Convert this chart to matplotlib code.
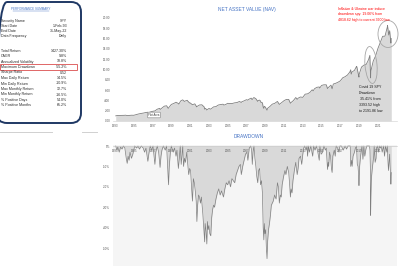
import matplotlib.pyplot as plt
from matplotlib.patches import FancyBboxPatch, Ellipse, Rectangle

plt.rcParams['font.family'] = ['Liberation Sans', 'DejaVu Sans']

# performance summary
info_labels = ['Security Name', 'Start Date', 'End Date', 'Data Frequency']
info_values = ['SPY', '1-Feb-93', '31-May-22', 'Daily']
stat_labels = ['Total Return', 'CAGR', 'Annualized Volatility', 'Maximum Drawdown',
               'Sharpe Ratio', 'Max Daily Return', 'Min Daily Return',
               'Max Monthly Return', 'Min Monthly Return', '% Positive Days',
               '% Positive Months']
stat_values = ['1427.30%', '9.8%', '18.8%', '-55.2%', '0.52', '14.5%', '-10.9%',
               '12.7%', '-16.5%', '54.0%', '65.2%']

# NAV
nav_years = [1993.08, 1993.25, 1993.5, 1993.75, 1994.0, 1994.1, 1994.25, 1994.5, 1994.75,
             1995.0, 1995.25, 1995.5, 1995.75, 1996.0, 1996.25, 1996.5, 1996.55, 1996.75,
             1997.0, 1997.25, 1997.5, 1997.75, 1997.82, 1998.0, 1998.25, 1998.5, 1998.67,
             1998.75, 1999.0, 1999.25, 1999.5, 1999.75, 1999.8, 2000.0, 2000.2, 2000.25,
             2000.4, 2000.5, 2000.7, 2000.75, 2000.95, 2001.0, 2001.25, 2001.5, 2001.7,
             2001.75, 2002.0, 2002.25, 2002.5, 2002.55, 2002.65, 2002.78, 2003.0, 2003.2,
             2003.25, 2003.5, 2003.75, 2004.0, 2004.25, 2004.5, 2004.6, 2004.75, 2005.0,
             2005.25, 2005.5, 2005.75, 2006.0, 2006.25, 2006.45, 2006.5, 2006.75, 2007.0,
             2007.15, 2007.25, 2007.5, 2007.6, 2007.75, 2007.8, 2008.0, 2008.2, 2008.25,
             2008.4, 2008.5, 2008.55, 2008.7, 2008.78, 2008.85, 2008.9, 2009.0, 2009.19,
             2009.25, 2009.5, 2009.75, 2010.0, 2010.3, 2010.5, 2010.75, 2011.0, 2011.25,
             2011.5, 2011.68, 2011.75, 2012.0, 2012.25, 2012.4, 2012.5, 2012.75, 2013.0,
             2013.25, 2013.5, 2013.75, 2014.0, 2014.1, 2014.25, 2014.5, 2014.75, 2014.8,
             2015.0, 2015.25, 2015.5, 2015.63, 2015.75, 2016.0, 2016.12, 2016.25, 2016.5,
             2016.75, 2017.0, 2017.25, 2017.5, 2017.75, 2018.0, 2018.1, 2018.15, 2018.25,
             2018.5, 2018.72, 2018.75, 2018.98, 2019.0, 2019.25, 2019.5, 2019.75, 2020.0,
             2020.14, 2020.22, 2020.25, 2020.5, 2020.75, 2021.0, 2021.25, 2021.5, 2021.75,
             2022.0, 2022.02, 2022.15, 2022.25, 2022.38, 2022.42]
nav_values = [1.00, 1.07, 1.07, 1.09, 1.10, 1.13, 1.08, 1.08, 1.12,
              1.11, 1.24, 1.36, 1.46, 1.53, 1.64, 1.70, 1.60, 1.75,
              1.88, 1.96, 2.29, 2.45, 2.25, 2.51, 2.88, 2.96, 2.45,
              2.65, 3.22, 3.40, 3.64, 3.40, 3.28, 3.90, 4.10, 4.04,
              3.80, 3.90, 4.02, 3.87, 3.50, 3.52, 3.16, 3.33, 2.75,
              2.84, 3.11, 3.15, 2.73, 2.30, 2.45, 2.13, 2.43, 2.30,
              2.38, 2.74, 2.80, 3.10, 3.20, 3.26, 3.10, 3.17, 3.43,
              3.38, 3.41, 3.53, 3.59, 3.79, 3.60, 3.73, 3.91, 4.14,
              4.05, 4.21, 4.44, 4.15, 4.50, 4.55, 4.33, 3.80, 3.99,
              4.05, 3.87, 3.60, 3.55, 2.70, 2.45, 2.85, 2.72, 2.10,
              2.46, 2.83, 3.27, 3.42, 3.80, 3.22, 3.57, 3.94, 4.19,
              4.19, 3.45, 3.59, 3.97, 4.56, 4.20, 4.43, 4.66, 4.59,
              5.21, 5.27, 5.54, 6.06, 5.85, 6.27, 6.54, 6.61, 6.40,
              6.91, 7.03, 7.03, 6.30, 6.55, 6.96, 6.25, 7.18, 7.32,
              7.53, 7.80, 8.39, 8.60, 8.92, 9.49, 9.95, 9.10, 9.54,
              9.83, 10.60, 10.55, 8.52, 9.07, 10.47, 10.84, 10.98, 11.91,
              12.74, 8.37, 9.72, 11.65, 12.63, 14.10, 15.24, 16.44, 16.47,
              18.24, 18.54, 16.70, 17.53, 15.12, 16.01]

# drawdown in %
dd_years = [1993.08, 1993.2, 1993.3, 1993.45, 1993.6, 1993.75, 1993.9, 1994.05, 1994.2,
            1994.3, 1994.4, 1994.5, 1994.6, 1994.75, 1994.9, 1995.0, 1995.1, 1995.3,
            1995.45, 1995.6, 1995.8, 1996.0, 1996.15, 1996.3, 1996.5, 1996.6, 1996.75,
            1996.9, 1997.05, 1997.25, 1997.35, 1997.5, 1997.65, 1997.8, 1997.9, 1998.0,
            1998.15, 1998.35, 1998.5, 1998.62, 1998.7, 1998.78, 1998.9, 1999.0, 1999.2,
            1999.35, 1999.5, 1999.6, 1999.75, 1999.85, 1999.95, 2000.05, 2000.15, 2000.22,
            2000.3, 2000.4, 2000.5, 2000.65, 2000.75, 2000.85, 2000.95, 2001.05, 2001.15,
            2001.25, 2001.35, 2001.45, 2001.55, 2001.65, 2001.72, 2001.8, 2001.9, 2002.0,
            2002.1, 2002.2, 2002.35, 2002.45, 2002.55, 2002.6, 2002.7, 2002.78, 2002.85,
            2002.92, 2003.0, 2003.1, 2003.2, 2003.3, 2003.4, 2003.5, 2003.6, 2003.75,
            2003.9, 2004.05, 2004.2, 2004.35, 2004.55, 2004.7, 2004.85, 2005.0, 2005.15,
            2005.3, 2005.45, 2005.6, 2005.75, 2005.9, 2006.05, 2006.2, 2006.35, 2006.45,
            2006.6, 2006.75, 2006.9, 2007.05, 2007.15, 2007.3, 2007.45, 2007.55, 2007.62,
            2007.7, 2007.8, 2007.9, 2008.0, 2008.1, 2008.2, 2008.3, 2008.4, 2008.5,
            2008.6, 2008.7, 2008.78, 2008.85, 2008.9, 2008.97, 2009.05, 2009.12, 2009.19,
            2009.25, 2009.35, 2009.45, 2009.55, 2009.65, 2009.75, 2009.85, 2010.0, 2010.15,
            2010.3, 2010.4, 2010.5, 2010.6, 2010.7, 2010.8, 2010.95, 2011.1, 2011.2,
            2011.35, 2011.5, 2011.6, 2011.68, 2011.75, 2011.85, 2011.95, 2012.1, 2012.25,
            2012.4, 2012.5, 2012.6, 2012.75, 2012.88, 2013.0, 2013.1, 2013.2, 2013.35,
            2013.45, 2013.5, 2013.6, 2013.7, 2013.85, 2014.05, 2014.15, 2014.3, 2014.45,
            2014.6, 2014.75, 2014.82, 2014.95, 2015.1, 2015.25, 2015.4, 2015.5, 2015.63,
            2015.7, 2015.75, 2015.85, 2015.95, 2016.05, 2016.12, 2016.2, 2016.35, 2016.45,
            2016.55, 2016.7, 2016.85, 2016.95, 2017.1, 2017.3, 2017.5, 2017.65, 2017.8,
            2017.95, 2018.05, 2018.1, 2018.2, 2018.25, 2018.35, 2018.5, 2018.6, 2018.72,
            2018.8, 2018.88, 2018.95, 2018.98, 2019.05, 2019.15, 2019.3, 2019.4, 2019.5,
            2019.6, 2019.7, 2019.8, 2019.95, 2020.1, 2020.15, 2020.2, 2020.22, 2020.25,
            2020.3, 2020.4, 2020.5, 2020.55, 2020.6, 2020.7, 2020.8, 2020.85, 2020.95,
            2021.05, 2021.15, 2021.25, 2021.35, 2021.45, 2021.6, 2021.7, 2021.8, 2021.95,
            2022.0, 2022.05, 2022.12, 2022.2, 2022.25, 2022.3, 2022.35, 2022.38, 2022.41,
            2022.42]
dd_values = [0, -2, -0.5, -3, -0.5, -1.5, 0, -1, -6,
             -8.5, -5, -7, -3, -6, -4, -2, 0, -1,
             0, -1.5, 0, -1, -3, -1, -7.5, -4, 0,
             -2, 0, -9, -3, 0, -3, -10.5, -5, -2,
             0, -2, 0, -12, -19, -10, -3, 0, -3,
             -1, -5, -2, -11, -6, 0, -9, -4, 0,
             -10, -6, -8, -3, -9, -14, -11, -12, -20,
             -27, -16, -18, -22, -27, -37, -29, -24, -25,
             -28, -25, -33, -40, -47, -38, -42, -48, -37,
             -41, -39, -43, -44, -35, -31, -29, -30, -26,
             -23, -21, -24, -22, -25, -21, -18, -19, -17,
             -20, -16, -17, -18, -14, -12, -10, -9, -14,
             -10, -7, -4, -3, -7, -1, 0, -2, -9,
             -3, 0, -6, -10, -15, -18, -12, -11, -19,
             -17, -23, -40, -46, -38, -43, -41, -50, -55.2,
             -47, -41, -38, -34, -29, -28, -27, -24, -26,
             -18, -20, -28, -24, -25, -19, -15, -12, -14,
             -10, -13, -19, -25, -21, -23, -17, -12, -8,
             -14, -11, -6, -5, -9, -4, -1, 0, -2,
             0, -5, 0, -3, 0, -5, 0, -2, 0,
             -3, -7, 0, -4, -3, 0, -2, -1, -11.5,
             -8, -10, -3, -5, -11, -13, -5, -2, -5,
             0, -1, -3, 0, 0, -2, 0, -1.5, 0,
             0, 0, -10, -7, -10, -5, -3, -1, 0,
             -9, -10, -15, -19.4, -10, -5, 0, -6.5, 0,
             -5, -2, 0, 0, 0, -2, -12, -34, -25,
             -16, -11, -7, -5, 0, -8, -6, -1, 0,
             -3, 0, -1, 0, -3, 0, -5, 0, -3,
             0, -6, -12, -7, -4, -10, -14, -18.7, -15,
             -13]

year_ticks = list(range(1993, 2022, 2))
nav_ticks = [0, 2, 4, 6, 8, 10, 12, 14, 16, 18, 20]
dd_ticks = [0, -10, -20, -30, -40, -50]

blue = '#4472c4'
tick_grey = '#595959'

fig = plt.figure(figsize=(4, 2.69), dpi=100)
fig.patch.set_facecolor('white')

### NAV chart ###
ax1 = fig.add_axes([113/400, 1 - 121/269, 284/400, 106/269])
ax1.fill_between(nav_years, nav_values, 0, color='#d9d9d9', lw=0)
ax1.plot(nav_years, nav_values, color='#808080', lw=0.6)
ax1.set_xlim(1992.79, 2023.03)
ax1.set_ylim(0, 20.58)
ax1.set_xticks(year_ticks)
ax1.set_xticklabels([str(y) for y in year_ticks])
ax1.set_yticks(nav_ticks)
ax1.set_yticklabels(['{:.2f}'.format(v) for v in nav_ticks])
ax1.tick_params(labelsize=2.2, length=0, colors=tick_grey, pad=2)
for s in ['top', 'right', 'left']:
    ax1.spines[s].set_visible(False)
ax1.spines['bottom'].set_color('#d9d9d9')
ax1.spines['bottom'].set_linewidth(0.5)

### Drawdown chart ###
ax2 = fig.add_axes([113/400, 1 - 266/269, 284/400, 121/269])
ax2.set_facecolor('#f5f5f5')
ax2.fill_between(dd_years, dd_values, 0, color='#d9d9d9', lw=0)
ax2.plot(dd_years, dd_values, color='#808080', lw=0.5)
ax2.set_xlim(1992.79, 2023.03)
ax2.set_ylim(-58.8, 0.5)
ax2.set_xticks(year_ticks)
ax2.set_xticklabels([str(y) for y in year_ticks])
ax2.set_yticks(dd_ticks)
ax2.set_yticklabels(['{:.0f}%'.format(v) for v in dd_ticks])
ax2.tick_params(labelsize=2.2, length=0, colors=tick_grey, pad=2)
for s in ['top', 'right', 'left']:
    ax2.spines[s].set_visible(False)
ax2.spines['bottom'].set_position(('data', 0))
ax2.spines['bottom'].set_color('#bfbfbf')
ax2.spines['bottom'].set_linewidth(0.4)

### overlay in pixel coords ###
ov = fig.add_axes([0, 0, 1, 1])
ov.set_xlim(0, 400)
ov.set_ylim(269, 0)
ov.axis('off')

ov.text(247, 10, 'NET ASSET VALUE (NAV)', color=blue, fontsize=3.5, ha='center', va='center')
ov.text(249, 137, 'DRAWDOWN', color=blue, fontsize=3.5, ha='center', va='center')

# summary box
ov.add_patch(FancyBboxPatch((-3, 2), 84, 121, boxstyle='round,pad=0,rounding_size=10',
                            ec='#1f3864', fc='none', lw=1.4))
ov.text(31, 9, 'PERFORMANCE SUMMARY', color=blue, fontsize=2.2, ha='center', va='center')
ov.plot([13, 49], [11, 11], color=blue, lw=0.3)

info_y = [20.7, 26, 31.3, 36.5]
for lab, val, y in zip(info_labels, info_values, info_y):
    ov.text(1, y, lab, fontsize=2.6, ha='left', va='center', color='#262626')
    ov.text(67, y, val, fontsize=2.6, ha='right', va='center', color='#262626')

for i, (lab, val) in enumerate(zip(stat_labels, stat_values)):
    y = 50.5 + i*5.5
    ov.text(1, y, lab, fontsize=2.6, ha='left', va='center', color='#262626')
    ov.text(67, y, val, fontsize=2.6, ha='right', va='center', color='#262626')

ov.add_patch(Rectangle((0, 64), 77, 6, fill=False, ec='#e06666', lw=0.7))

ov.plot([0, 52], [131.5, 131.5], color='#d0d0d0', lw=0.7)
ov.plot([82, 97], [131.5, 131.5], color='#d0d0d0', lw=0.7)

# annotations
ov.text(338, 14.5, 'Inflation & Ukraine war induce\ndrawdown spy: 19.06% from\n4818.62 high to current 3900 low',
        color='red', fontsize=2.5, ha='left', va='center', linespacing=1.45)
ov.add_patch(Ellipse((388, 34), 20, 27, fill=False, ec='#a6a6a6', lw=0.6))

ov.text(359, 99, 'Covid 19 SPY\nDrawdown\n 35.41% from\n3393.52 high\nto 2191.86 low',
        color='#1a1a1a', fontsize=2.6, ha='left', va='center', linespacing=1.6)
ov.add_patch(Ellipse((371, 65), 12, 37, angle=-5, fill=False, ec='#a6a6a6', lw=0.6))

ov.text(154, 115, 'Plot Area', fontsize=2, ha='center', va='center', color='#404040',
        bbox=dict(boxstyle='round,pad=0.3', fc='white', ec='#7f7f7f', lw=0.4))

fig.savefig('out.png', dpi=100)
